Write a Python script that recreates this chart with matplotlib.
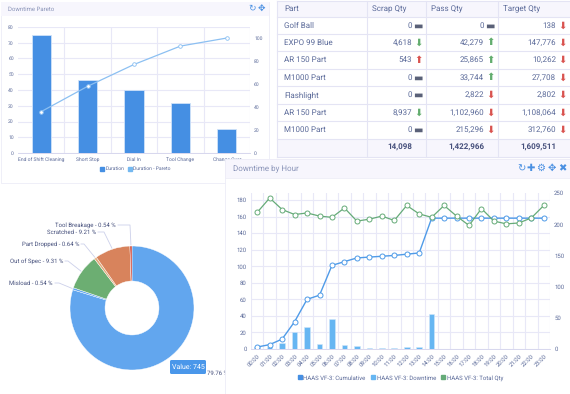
import numpy as np
import matplotlib
matplotlib.use('Agg')
import matplotlib.pyplot as plt
from matplotlib.patches import Rectangle, FancyBboxPatch
from matplotlib.lines import Line2D

plt.rcParams['font.family'] = ['Roboto', 'DejaVu Sans']
plt.rcParams['text.hinting'] = 'no_hinting'
plt.rcParams['text.hinting_factor'] = 1

W = 570
H = 394

# pareto
pareto_cats = ['End of Shift Cleaning', 'Short Stop', 'Dial In', 'Tool Change', 'Change Over']
pareto_dur = [75, 46.5, 40, 32, 15]
pareto_pct = [36, 58, 77, 93, 100]

# table
table_cols = ['Part', 'Scrap Qty', 'Pass Qty', 'Target Qty']
parts = ['Golf Ball', 'EXPO 99 Blue', 'AR 150 Part', 'M1000 Part', 'Flashlight', 'AR 150 Part', 'M1000 Part']
scrap = ['0', '4,618', '543', '0', '0', '8,937', '0']
passed = ['0', '42,279', '25,865', '33,744', '2,822', '1,102,960', '215,296']
target = ['138', '147,776', '10,262', '27,708', '2,802', '1,108,064', '312,760']
scrap_sym = ['n', 'dg', 'ur', 'n', 'n', 'dg', 'n']
pass_sym = ['n', 'ug', 'ug', 'ug', 'dr', 'dr', 'dr']
target_sym = ['dr', 'dr', 'dr', 'dr', 'dr', 'dr', 'dr']
totals = ['', '14,098', '1,422,966', '1,609,511']

# donut
pie_names = ['', 'Misload', 'Out of Spec', 'Part Dropped', 'Scratched', 'Tool Breakage']
pie_vals = [79.76, 0.54, 9.31, 0.64, 9.21, 0.54]
pie_cols = ['#62a6ee', '#62a6ee', '#6cae72', '#e3ab7c', '#d8835c', '#d0493a']

# hourly
hours = ['%02d:00' % h for h in range(24)]
cumulative = [2.4, 5.3, 12, 33, 60, 65, 101, 105.5, 110, 111, 112, 113, 114.5, 116,
              158, 158, 158, 158, 158, 158, 158, 158, 158, 158]
downtime = [2, 3, 7, 20, 27, 5.5, 36, 5, 4, 1.5, 1.5, 1.5, 2, 2, 42,
            0, 0, 0, 0, 0, 0, 0, 0, 0]
total_qty = [219, 242, 223.5, 215.5, 218, 213, 211, 226, 205, 208, 213, 206, 230, 216.5,
             211, 230, 213, 198, 225, 205, 200.5, 202, 210, 230]

TXT = '#5b6a99'
TXT2 = '#46507c'
GRID = '#e8e8f7'
LINE = '#e4e4f4'
BAND = '#f7f6fd'
BLUE = '#4a90e2'
SYM = {'n': ('\u25ac', '#5a6178'), 'dg': ('\u2b07', '#62ad6e'), 'ug': ('\u2b06', '#62ad6e'),
       'dr': ('\u2b07', '#d9534f'), 'ur': ('\u2b06', '#d9534f')}

fig = plt.figure(figsize=(W / 100, H / 100), dpi=100, facecolor='white')


def px_axes(x0, y0, x1, y1, z):
    ax = fig.add_axes([x0 / W, 1 - y1 / H, (x1 - x0) / W, (y1 - y0) / H])
    ax.set_zorder(z)
    ax.patch.set_alpha(0)
    return ax


def style(ax, size):
    for s in ax.spines.values():
        s.set_visible(False)
    ax.spines['bottom'].set_visible(True)
    ax.spines['bottom'].set_color('#d8d8ee')
    ax.spines['bottom'].set_linewidth(0.6)
    ax.tick_params(length=0, labelsize=size, labelcolor=TXT, pad=3)
    ax.set_axisbelow(True)


# background layer in pixel coords
bg = px_axes(0, 0, W, H, 0)
bg.set_xlim(0, W)
bg.set_ylim(H, 0)
bg.axis('off')
bg.add_patch(Rectangle((1, 2), 268, 181, fc='white', ec='#ececf7', lw=0.6))
bg.add_patch(Rectangle((1, 2), 268, 14, fc=BAND, ec='none'))
bg.text(8, 9, 'Downtime Pareto', fontsize=4.6, color='#8a94b8', va='center')
bg.text(252, 8.5, '\u21bb', fontsize=6.5, color=BLUE, va='center', ha='center', family='DejaVu Sans')
bg.text(261, 8.5, '\u2725', fontsize=6.5, color=BLUE, va='center', ha='center', family='DejaVu Sans')

# table
col_edges = [277, 367, 426, 498, 570]
row_edges = [1, 17, 34, 51, 69, 86, 104, 121, 139, 157]
bg.add_patch(Rectangle((277, 1), 293, 16, fc=BAND, ec='none'))
bg.add_patch(Rectangle((277, 139), 293, 18, fc=BAND, ec='none'))
for y in row_edges:
    bg.plot([277, 570], [y, y], color=LINE, lw=0.8)
for x in col_edges[:-1]:
    bg.plot([x, x], [1, 157], color=LINE, lw=0.8)
for j, c in enumerate(table_cols):
    bg.text(col_edges[j] + (7 if j == 0 else 5), 9, c, fontsize=6, color=TXT, va='center')
for i in range(len(parts)):
    yc = (row_edges[i + 1] + row_edges[i + 2]) / 2
    bg.text(284, yc, parts[i], fontsize=5.8, color=TXT, va='center')
    cells = [(scrap[i], scrap_sym[i]), (passed[i], pass_sym[i]), (target[i], target_sym[i])]
    for j, (val, sym) in enumerate(cells):
        right = col_edges[j + 2]
        bg.text(right - 14, yc, val, fontsize=5.8, color=TXT, va='center', ha='right')
        g, col = SYM[sym]
        bg.text(right - 8, yc, g, fontsize=7.5, color=col, va='center', ha='center', family='DejaVu Sans')
for j in range(1, 4):
    bg.text(col_edges[j + 1] - 14, 147.5, totals[j], fontsize=5.8, color=TXT2, va='center', ha='right',
            fontweight='bold')

# pareto chart
ax1 = px_axes(18, 27, 250, 153, 1)
style(ax1, 3.6)
x = np.arange(len(pareto_cats))
ax1.bar(x, pareto_dur, width=0.41, color='#458fe3', edgecolor='#cfe2f9', linewidth=0.6)
ax1.set_xlim(-0.5, 4.5)
ax1.set_ylim(0, 80)
ax1.set_yticks(range(0, 81, 10))
ax1.set_xticks(x)
ax1.set_xticklabels(pareto_cats)
ax1.set_xticks(np.arange(0.5, 4.6, 1), minor=True)
ax1.tick_params(which='minor', length=0)
ax1.grid(True, axis='y', color=GRID, lw=0.8)
ax1.grid(True, axis='x', which='minor', color=GRID, lw=0.8)
ax1.grid(False, axis='x', which='major')
ax1b = ax1.twinx()
ax1b.set_zorder(1.1)
ax1b.patch.set_alpha(0)
style(ax1b, 3.6)
ax1b.plot(x, pareto_pct, color='#8cc0f2', lw=0.9, marker='o', ms=2.6, mfc='white', mec='#8cc0f2', mew=0.6)
ax1b.set_ylim(0, 109.6)
ax1b.set_yticks(range(0, 101, 20))
handles = [Line2D([], [], ls='', marker='s', ms=2.4, color='#458fe3'),
           Line2D([], [], ls='', marker='s', ms=2.4, color='#74b8f0')]
ax1b.legend(handles, ['Duration', 'Duration - Pareto'], loc='center', bbox_to_anchor=(135 / W, 1 - 169 / H),
            bbox_transform=fig.transFigure, ncol=2, frameon=False, fontsize=3.6, labelcolor=TXT,
            handlelength=1, handletextpad=0.1, columnspacing=0.6)

# donut
ax2 = px_axes(70, 246, 194, 370, 1)
ax2.pie(pie_vals, colors=pie_cols, startangle=90, counterclock=False, radius=1,
        wedgeprops=dict(width=0.565, edgecolor='white', linewidth=0.3))
ax2.set_xlim(-1, 1)
ax2.set_ylim(-1, 1)

label_pos = {'Misload': (53, 283, 59, 283), 'Out of Spec': (63, 261, 68, 261),
             'Part Dropped': (79, 244, 84, 244), 'Scratched': (96, 232, 104, 232),
             'Tool Breakage': (116, 225, 130, 225)}
cx, cy, r = 132, 308, 63
acc = 0
for name, v in zip(pie_names, pie_vals):
    mid = acc + v / 2
    acc += v
    if not name:
        continue
    ang = np.deg2rad(mid * 3.6)
    ex = cx + r * np.sin(ang)
    ey = cy - r * np.cos(ang)
    tx, ty, kx, ky = label_pos[name]
    bg.text(tx, ty, '%s - %.2f %%' % (name, v), fontsize=4.4, color=TXT2, ha='right', va='center')
    bg.plot([tx + 2, kx, ex], [ty, ky, ey], color='#ccd0ea', lw=0.6)

bg.text(207, 373, '79.76 %', fontsize=4.4, color=TXT2, va='center')

# hour card and everything on top of it
top = px_axes(0, 0, W, H, 3)
top.set_xlim(0, W)
top.set_ylim(H, 0)
top.axis('off')
top.add_patch(FancyBboxPatch((170, 360), 36, 14, boxstyle='round,pad=0,rounding_size=1.5',
                             fc='#4a97ea', ec='none'))
top.text(188, 367, 'Value: 745', fontsize=5.2, color='white', ha='center', va='center')
top.add_patch(Rectangle((225, 159), 345, 235, fc='white', ec='#ececf7', lw=0.6))
top.add_patch(Rectangle((225, 159), 345, 19, fc=BAND, ec='#ececf7', lw=0.5))
top.text(233, 168.5, 'Downtime by Hour', fontsize=5.8, color='#8a94b8', va='center')
for xi, g in zip([521, 531, 541, 552, 562], ['\u21bb', '\u271a', '\u2699', '\u2725', '\u2716']):
    top.text(xi, 168.5, g, fontsize=7, color=BLUE, ha='center', va='center', family='DejaVu Sans')

ax3 = px_axes(251, 193, 550, 349, 4)
style(ax3, 4.6)
xh = np.arange(24)
ax3.bar(xh, downtime, width=0.45, color='#66b6f2', edgecolor='#cfe6fa', linewidth=0.4)
ax3.plot(xh, cumulative, color='#4f9be8', lw=1.0, marker='o', ms=3.6, mfc='white', mec='#4f9be8', mew=0.7)
ax3.set_xlim(-0.5, 23.5)
ax3.set_ylim(0, 188.4)
ax3.set_yticks(range(0, 181, 20))
ax3.set_xticks(xh)
ax3.set_xticklabels(hours, rotation=45, ha='right', rotation_mode='anchor')
ax3.set_xticks(np.arange(-0.5, 23.6, 1), minor=True)
ax3.tick_params(which='minor', length=0)
ax3.grid(True, axis='y', color=GRID, lw=0.8)
ax3.grid(True, axis='x', which='minor', color=GRID, lw=0.8)
ax3.grid(False, axis='x', which='major')
ax3b = ax3.twinx()
ax3b.set_zorder(4.1)
ax3b.patch.set_alpha(0)
style(ax3b, 4.6)
ax3b.plot(xh, total_qty, color='#65ab78', lw=0.9, marker='o', ms=3.6, mfc='white', mec='#65ab78', mew=0.7)
ax3b.set_ylim(0, 250)
ax3b.set_yticks(range(0, 251, 50))
handles = [Line2D([], [], ls='', marker='s', ms=2.8, color='#458fe3'),
           Line2D([], [], ls='', marker='s', ms=2.8, color='#66b6f2'),
           Line2D([], [], ls='', marker='s', ms=2.8, color='#65ab78')]
ax3b.legend(handles, ['HAAS VF-3: Cumulative', 'HAAS VF-3: Downtime', 'HAAS VF-3: Total Qty'],
            loc='center', bbox_to_anchor=(400 / W, 1 - 378 / H), bbox_transform=fig.transFigure, ncol=3,
            frameon=False, fontsize=4.4, labelcolor=TXT, handlelength=1, handletextpad=0.1, columnspacing=0.7)

fig.savefig('out.png', dpi=100)
plt.close()
